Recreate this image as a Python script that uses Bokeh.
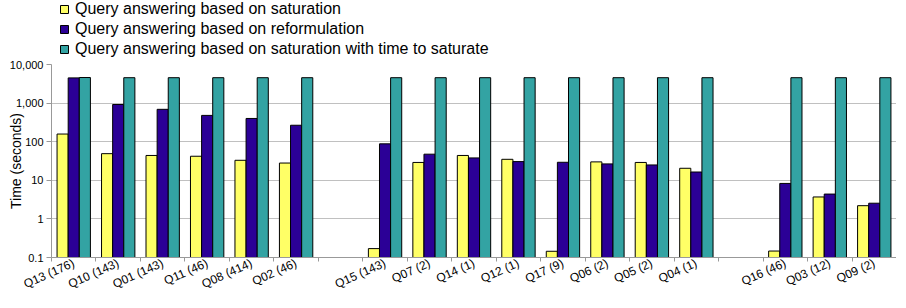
from bokeh.plotting import figure
from bokeh.layouts import column
from bokeh.models import Range1d, FixedTicker, Legend, LegendItem
from bokeh.embed import file_html
from bokeh.resources import INLINE

# ---- data ----
group1 = ["Q13 (176)", "Q10 (143)", "Q01 (143)", "Q11 (46)", "Q08 (414)", "Q02 (46)"]
group2 = ["Q15 (143)", "Q07 (2)", "Q14 (1)", "Q12 (1)", "Q17 (9)", "Q06 (2)", "Q05 (2)", "Q04 (1)"]
group3 = ["Q16 (46)", "Q03 (12)", "Q09 (2)"]

saturation = [158, 49, 44, 42, 33, 28,
              0.17, 29, 44, 35, 0.145, 30, 29, 20.5,
              0.147, 3.7, 2.2]
reformulation = [4500, 920, 690, 480, 400, 267,
                 88, 47.5, 38, 30.5, 29.3, 26.6, 25, 16.4,
                 8.3, 4.4, 2.55]
saturation_with_time = [4600, 4550, 4550, 4550, 4550, 4550,
                        4550, 4550, 4550, 4550, 4550, 4550, 4550, 4550,
                        4550, 4550, 4550]

series_names = ["Query answering based on saturation",
                "Query answering based on reformulation",
                "Query answering based on saturation with time to saturate"]
series_colors = ["#FFFF66", "#2B0096", "#33A3A3"]

y_ticks = [0.1, 1, 10, 100, 1000, 10000]
y_tick_labels = ["0.1", "1", "10", "100", "1,000", "10,000"]
y_label = "Time (seconds)"

# ---- layout of category slots (one empty slot between groups) ----
groups = [group1, group2, group3]
categories = []
positions = []
slot = 0
for gi, g in enumerate(groups):
    if gi > 0:
        slot += 1
    for q in g:
        categories.append(q)
        positions.append(slot)
        slot += 1
n_slots = slot
boundaries = [i - 0.5 for i in range(n_slots + 1)]

FONT = "Liberation Sans"
W = 896
LEG_H = 58
H = 300

# ---- main chart ----
p = figure(width=W, height=H - LEG_H, output_backend="svg", toolbar_location=None,
           y_axis_type="log",
           x_range=Range1d(-0.5, n_slots - 0.5),
           y_range=Range1d(y_ticks[0], y_ticks[-1]),
           min_border_left=51, min_border_right=0,
           min_border_top=6, min_border_bottom=0)
p.outline_line_color = None
p.background_fill_color = "white"

bar_w = 0.25
series = [saturation, reformulation, saturation_with_time]
for i, vals in enumerate(series):
    xs = [x + (i - 1) * bar_w for x in positions]
    p.vbar(x=xs, top=vals, bottom=y_ticks[0], width=bar_w,
           fill_color=series_colors[i], line_color="black", line_width=1)

# y axis
p.yaxis.ticker = FixedTicker(ticks=y_ticks, minor_ticks=[])
p.yaxis.major_label_overrides = {t: l for t, l in zip(y_ticks, y_tick_labels)}
p.yaxis.major_tick_out = 5
p.yaxis.major_tick_in = 0
p.yaxis.major_label_standoff = 3
p.yaxis.axis_line_color = "#999999"
p.yaxis.major_tick_line_color = "#999999"
p.yaxis.major_label_text_font = FONT
p.yaxis.major_label_text_font_size = "11px"
p.yaxis.major_label_text_color = "black"
p.yaxis.axis_label = y_label
p.yaxis.axis_label_standoff = -17
p.yaxis.axis_label_text_font = FONT
p.yaxis.axis_label_text_font_size = "14px"
p.yaxis.axis_label_text_font_style = "normal"
p.yaxis.axis_label_text_color = "black"

# x axis
p.xaxis.ticker = FixedTicker(ticks=positions, minor_ticks=boundaries)
p.xaxis.major_label_overrides = {x: c for x, c in zip(positions, categories)}
p.xaxis.major_tick_out = 0
p.xaxis.major_tick_in = 0
p.xaxis.minor_tick_out = 4
p.xaxis.minor_tick_in = 0
p.xaxis.minor_tick_line_color = "#999999"
p.xaxis.axis_line_color = "#999999"
p.xaxis.major_label_orientation = 0.42
p.xaxis.major_label_standoff = 1
p.xaxis.major_label_text_font = FONT
p.xaxis.major_label_text_font_size = "12px"
p.xaxis.major_label_text_color = "black"

p.xgrid.visible = False
p.ygrid.grid_line_color = "#c0c0c0"
p.ygrid.grid_line_width = 1

# ---- legend strip above the chart (frame aligned with the chart's frame) ----
lf = figure(width=W, height=LEG_H, output_backend="svg", toolbar_location=None,
            x_axis_location=None, y_axis_location=None,
            x_range=Range1d(0, 1), y_range=Range1d(0, 1),
            min_border=0, min_border_left=0, min_border_right=0,
            min_border_top=0, min_border_bottom=0)
lf.outline_line_color = None
lf.xgrid.visible = False
lf.ygrid.visible = False
legend_renderers = []
for i, name in enumerate(series_names):
    # hidden sample bar per series: only its legend swatch is shown
    r = lf.vbar(x=[-1], top=[series[i][0]], width=bar_w, fill_color=series_colors[i],
                line_color="black", line_width=1, visible=False)
    legend_renderers.append(r)
legend = Legend(items=[LegendItem(label=n, renderers=[r]) for n, r in zip(series_names, legend_renderers)],
                location=(8, 0), orientation="vertical",
                padding=0, margin=0, border_line_alpha=0, background_fill_alpha=0,
                inactive_fill_alpha=0,
                glyph_width=10, glyph_height=10, label_height=18, spacing=2,
                label_standoff=6, label_text_font=FONT, label_text_font_size="16px",
                label_text_color="black")
lf.add_layout(legend)

layout = column(lf, p, spacing=0)
open("out.html", "w").write(file_html(layout, INLINE))
